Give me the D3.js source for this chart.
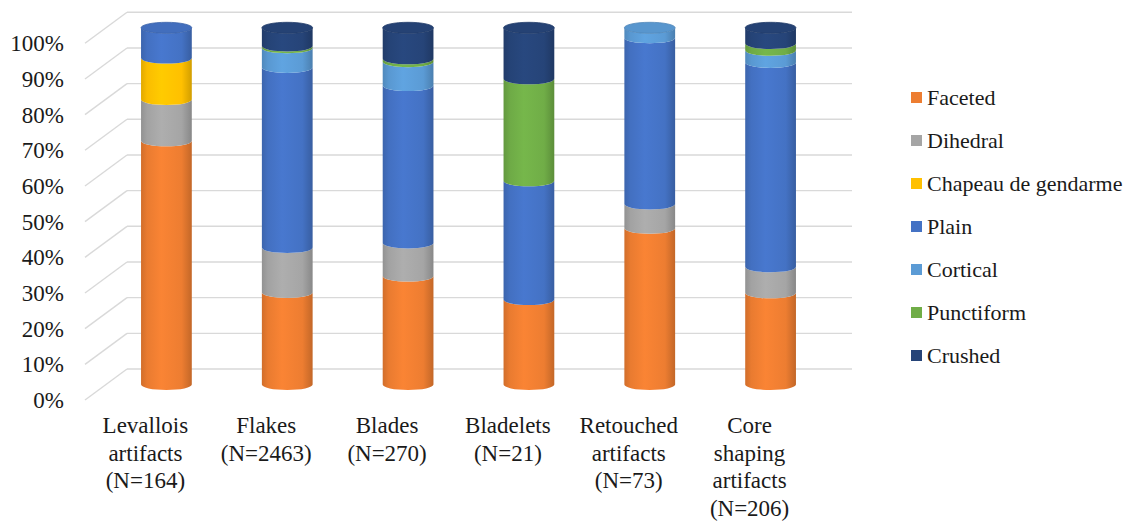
<!DOCTYPE html>
<html>
<head>
<meta charset="utf-8">
<script src="https://cdn.jsdelivr.net/npm/d3@7"></script>
<style>
  html, body { margin: 0; padding: 0; background: #ffffff; }
  svg { display: block; }
</style>
</head>
<body>
<svg id="chart" width="1146" height="521"></svg>
<script>
// Platform types by artifact category (percent of each category)
const categories = [
  ["Levallois", "artifacts", "(N=164)"],
  ["Flakes", "(N=2463)"],
  ["Blades", "(N=270)"],
  ["Bladelets", "(N=21)"],
  ["Retouched", "artifacts", "(N=73)"],
  ["Core", "shaping", "artifacts", "(N=206)"]
];
const seriesNames = ["Faceted", "Dihedral", "Chapeau de gendarme", "Plain", "Cortical", "Punctiform", "Crushed"];
const faceted    = [68.3, 25.8, 30.4, 23.8, 43.8, 25.7];
const dihedral   = [11.6, 12.6,  9.3,  0.0,  6.8,  7.3];
const chapeau    = [11.6,  0.0,  0.0,  0.0,  0.0,  0.0];
const plain      = [ 8.5, 50.5, 44.1, 33.3, 46.6, 57.3];
const cortical   = [ 0.0,  5.5,  6.7,  0.0,  2.8,  3.4];
const punctiform = [ 0.0,  0.5,  0.8, 28.6,  0.0,  1.9];
const crushed    = [ 0.0,  5.1,  8.7, 14.3,  0.0,  4.4];
const yTicks = [0, 10, 20, 30, 40, 50, 60, 70, 80, 90, 100];
const colors = ["#ED7D31", "#A5A5A5", "#FFC000", "#4472C4", "#5B9BD5", "#70AD47", "#264478"];

const FONT = "'Liberation Serif'";
const INK = "#1a1a1a";
function styleText(sel, size) {
  sel.style("font-family", FONT).style("font-size", size + "px").style("fill", INK);
}

const seriesValues = [faceted, dihedral, chapeau, plain, cortical, punctiform, crushed];
const rows = categories.map((c, i) => {
  const r = { key: i };
  seriesNames.forEach((s, j) => { r[s] = seriesValues[j][i]; });
  return r;
});
const stacked = d3.stack().keys(seriesNames)(rows);

const svg = d3.select("#chart");

// 3D box: back wall and depth offset of the side wall
const back = { left: 127, right: 852, top: 12.3, bottom: 369 };
const depth = { dx: -42, dy: 31 };

const x = d3.scaleBand().domain(d3.range(categories.length)).range([back.left, back.right]);
const yBack = d3.scaleLinear().domain([0, 100]).range([back.bottom, back.top]);
const yFront = d3.scaleLinear().domain([0, 100]).range([back.bottom + depth.dy, back.top + depth.dy]);
// bars sit halfway into the depth
const yBar = d3.scaleLinear().domain([0, 100]).range([back.bottom + depth.dy / 2, back.top + depth.dy / 2]);
const barShiftX = depth.dx / 2;

// gridlines: back wall + side wall
const grid = svg.append("g").attr("stroke", "#d9d9d9").attr("stroke-width", 1.4).attr("fill", "none");
yTicks.forEach(t => {
  const yy = yBack(t);
  grid.append("line").attr("x1", back.left).attr("x2", back.right).attr("y1", yy).attr("y2", yy);
  grid.append("line").attr("x1", back.left).attr("x2", back.left + depth.dx)
      .attr("y1", yy).attr("y2", yy + depth.dy);
});

// value axis on the front plane
const yAxis = d3.axisLeft(yFront).tickValues(yTicks).tickFormat(d => d + "%").tickSize(0).tickPadding(0);
const ax = svg.append("g").attr("transform", `translate(${back.left + depth.dx - 21},0)`).call(yAxis);
ax.select(".domain").remove();
styleText(ax.selectAll("text"), 23);

// cylinder shading gradients
const defs = svg.append("defs");
colors.forEach((c, i) => {
  const g = defs.append("linearGradient").attr("id", "cyl" + i)
    .attr("x1", "0%").attr("x2", "100%").attr("y1", "0%").attr("y2", "0%");
  const base = d3.color(c);
  g.append("stop").attr("offset", "0%").attr("stop-color", base.darker(0.35));
  g.append("stop").attr("offset", "12%").attr("stop-color", base.darker(0.05));
  g.append("stop").attr("offset", "40%").attr("stop-color", base.brighter(0.15));
  g.append("stop").attr("offset", "80%").attr("stop-color", base);
  g.append("stop").attr("offset", "100%").attr("stop-color", base.darker(0.55));
});

const bw = x.bandwidth() * 0.42;
const rx = bw / 2;
const ry = 5.5;

function segmentPath(cx, y0, y1) {
  return `M${cx - rx},${y1} L${cx - rx},${y0} A${rx},${ry} 0 0 0 ${cx + rx},${y0}` +
         ` L${cx + rx},${y1} A${rx},${ry} 0 0 1 ${cx - rx},${y1} Z`;
}

const bars = svg.append("g");
stacked.forEach((layer, si) => {
  layer.forEach((d, ci) => {
    if (d[1] - d[0] <= 0) return;
    const cx = x(ci) + x.bandwidth() / 2 + barShiftX;
    bars.append("path")
      .attr("d", segmentPath(cx, yBar(d[0]), yBar(d[1])))
      .attr("fill", `url(#cyl${si})`);
  });
});

// top caps coloured by the uppermost non-empty series
categories.forEach((c, ci) => {
  let topIdx = 0;
  stacked.forEach((layer, si) => { if (layer[ci][1] - layer[ci][0] > 0) topIdx = si; });
  const cx = x(ci) + x.bandwidth() / 2 + barShiftX;
  const top = stacked[topIdx][ci][1];
  bars.append("ellipse")
    .attr("cx", cx).attr("cy", yBar(top)).attr("rx", rx).attr("ry", ry)
    .attr("fill", d3.color(colors[topIdx]).darker(0.1))
    .attr("stroke", d3.color(colors[topIdx]).darker(0.4)).attr("stroke-width", 0.8);
});

// category labels on the front plane
const labels = svg.append("g");
categories.forEach((lines, ci) => {
  const cx = x(ci) + x.bandwidth() / 2 + depth.dx;
  lines.forEach((ln, k) => {
    const t = labels.append("text").attr("x", cx).attr("y", 433 + k * 27.5)
      .attr("text-anchor", "middle").text(ln);
    styleText(t, 23);
  });
});

// legend
const legend = svg.append("g").attr("transform", "translate(911,98)");
seriesNames.forEach((s, i) => {
  const g = legend.append("g").attr("transform", `translate(0,${i * 43})`);
  g.append("rect").attr("x", 0).attr("y", -6).attr("width", 11).attr("height", 11).attr("fill", colors[i]);
  styleText(g.append("text").attr("x", 16).attr("y", 7).text(s), 22);
});
</script>
</body>
</html>
